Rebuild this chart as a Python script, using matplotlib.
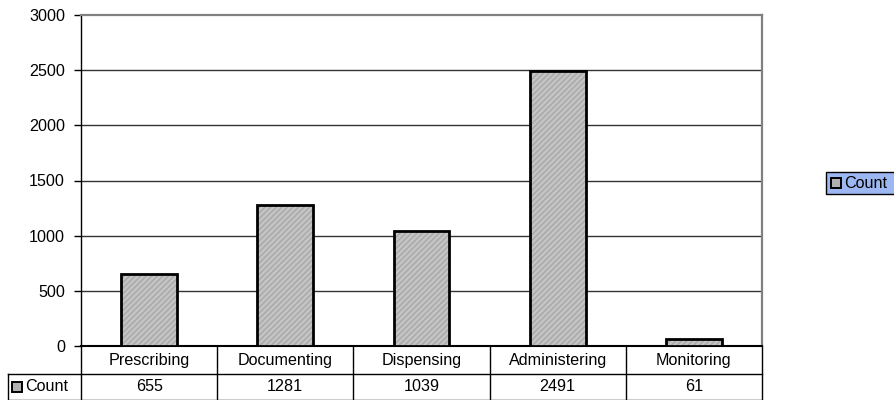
import matplotlib
matplotlib.use("Agg")
import matplotlib.pyplot as plt
from matplotlib.patches import Rectangle
from matplotlib.lines import Line2D

categories = ["Prescribing", "Documenting", "Dispensing", "Administering", "Monitoring"]
counts = [655, 1281, 1039, 2491, 61]
series_name = "Count"
yticks = [0, 500, 1000, 1500, 2000, 2500, 3000]

plt.rcParams['font.family'] = ['Liberation Sans', 'DejaVu Sans']
FS = 11.6
W, H = 894, 400
fig = plt.figure(figsize=(W / 100, H / 100), dpi=100)
L, R, T, B = 81, 762, 15, 346
ax = fig.add_axes([L / W, 1 - B / H, (R - L) / W, (B - T) / H])

x = list(range(len(categories)))
ax.bar(x, counts, width=0.41, color='#C4C4C4', edgecolor='#A8A8A8', hatch='//////',
       linewidth=0, zorder=3)
ax.bar(x, counts, width=0.41, fill=False, edgecolor='black', linewidth=2, zorder=4)
ax.set_xlim(-0.5, len(categories) - 0.5)
ax.set_ylim(0, 3000)
ax.set_yticks(yticks)
ax.set_yticklabels([str(v) for v in yticks], fontsize=FS)
ax.tick_params(axis='y', length=5, width=1, pad=6.5, color='black')
ax.set_xticks([])
for v in yticks[1:-1]:
    ax.axhline(v, color='#333333', linewidth=1, zorder=1)
ax.spines['top'].set_color('#808080')
ax.spines['right'].set_color('#808080')
ax.spines['top'].set_linewidth(1.6)
ax.spines['right'].set_linewidth(1.6)
ax.spines['left'].set_color('black')
ax.spines['left'].set_linewidth(1)
ax.spines['bottom'].set_color('black')
ax.spines['bottom'].set_linewidth(1.5)

def fx(px):
    return px / W
def fy(py):
    return 1 - py / H

row1_top, row1_bot, row2_bot = 346, 374, 399.5
tleft = 8
colw = (R - L) / len(categories)
lines = []
lines.append(((L, R), (row1_bot, row1_bot)))
lines.append(((tleft, L), (row1_bot, row1_bot)))
lines.append(((tleft, R), (row2_bot, row2_bot)))
lines.append(((tleft, tleft), (row1_bot, row2_bot)))
for i in range(len(categories) + 1):
    xp = L + i * colw
    lines.append(((xp, xp), (row1_top, row2_bot)))
for (xs, ys) in lines:
    fig.add_artist(Line2D([fx(xs[0]), fx(xs[1])], [fy(ys[0]), fy(ys[1])],
                          color='black', linewidth=1))

for i, (c, v) in enumerate(zip(categories, counts)):
    cx = L + (i + 0.5) * colw
    fig.text(fx(cx), fy((row1_top + row1_bot) / 2), c, ha='center', va='center', fontsize=FS)
    fig.text(fx(cx), fy((row1_bot + row2_bot) / 2), str(v), ha='center', va='center', fontsize=FS)

def key(px, py):
    fig.add_artist(Rectangle((fx(px), fy(py + 5)), 10 / W, 10 / H, facecolor='#B0B0B0',
                             edgecolor='black', linewidth=1.4))

ky = (row1_bot + row2_bot) / 2
key(12, ky)
fig.text(fx(25), fy(ky), series_name, ha='left', va='center', fontsize=FS)

lx0, ly0, lx1, ly1 = 826, 172, 900, 194
fig.add_artist(Rectangle((fx(lx0), fy(ly1)), (lx1 - lx0) / W, (ly1 - ly0) / H,
                         facecolor='#9DB7F2', edgecolor='black', linewidth=1))
lky = (ly0 + ly1) / 2
key(831, lky)
fig.text(fx(844), fy(lky), series_name, ha='left', va='center', fontsize=FS)

fig.savefig("out.png", dpi=100)
